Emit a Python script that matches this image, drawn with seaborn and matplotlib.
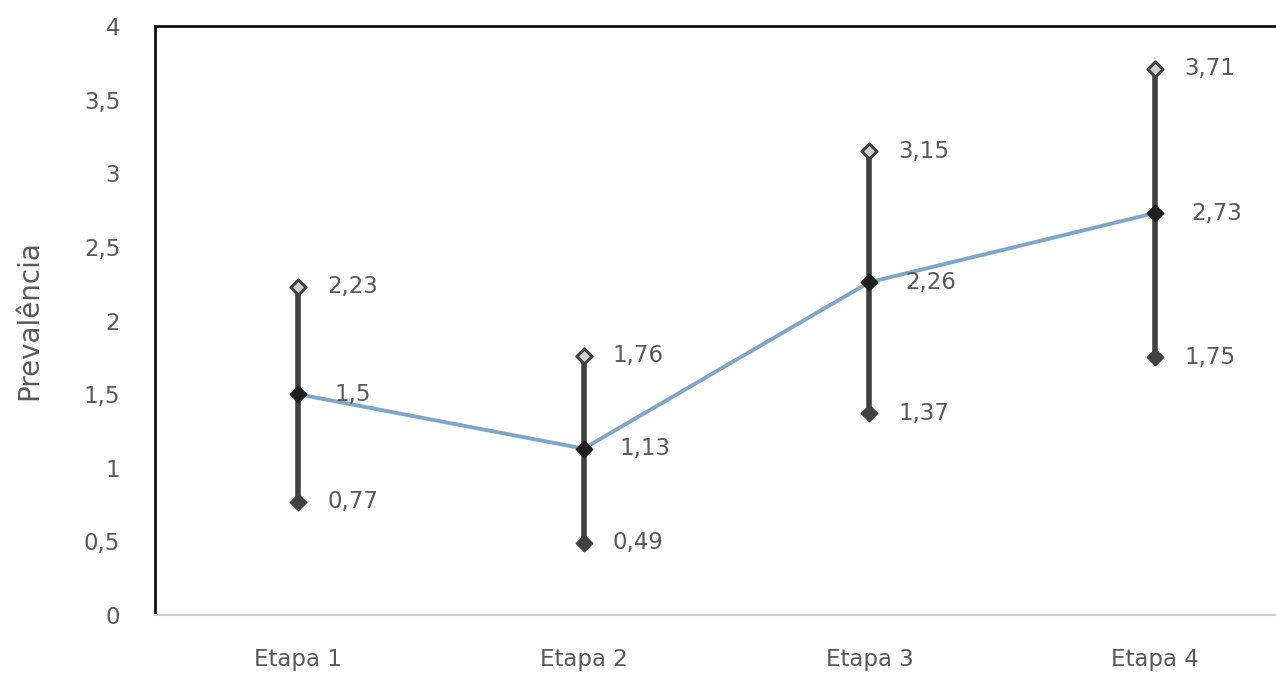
import matplotlib
matplotlib.use("Agg")
import matplotlib.pyplot as plt
import seaborn as sns
import pandas as pd

# chart data
etapas = ["Etapa 1", "Etapa 2", "Etapa 3", "Etapa 4"]
prevalencia = [1.50, 1.13, 2.26, 2.73]
limite_inferior = [0.77, 0.49, 1.37, 1.75]
limite_superior = [2.23, 1.76, 3.15, 3.71]
y_ticks = [0, 0.5, 1, 1.5, 2, 2.5, 3, 3.5, 4]

sns.set_theme(style="white")
plt.rcParams["font.family"] = ["DejaVu Sans"]

TXT = "#595959"
DARK = "#404040"
LINE = "#7ea6c9"
FS = 16.5

df = pd.DataFrame({"etapa": etapas, "prev": prevalencia,
                   "lo": limite_inferior, "hi": limite_superior})
df["x"] = range(len(df))

fig = plt.figure(figsize=(12.76, 6.76), dpi=100)
# plot area runs past the right edge (cropped like the original)
ax = fig.add_axes([155 / 1276, 1 - 615 / 676, 1143 / 1276, 589 / 676])

# confidence interval bars
ax.vlines(df["x"], df["lo"], df["hi"], color=DARK, lw=4, zorder=2)

# prevalence line
sns.lineplot(data=df, x="x", y="prev", ax=ax, color=LINE, lw=2.8, zorder=3)

# markers
ax.scatter(df["x"], df["lo"], marker="D", s=70, color=DARK, zorder=4)
ax.scatter(df["x"], df["prev"], marker="D", s=70, color="#1f1f1f", zorder=4)
ax.scatter(df["x"], df["hi"], marker="D", s=60, facecolor="#d0d0d0",
           edgecolor=DARK, linewidth=2.2, zorder=4)

def fmt(v):
    s = f"{v:.2f}".rstrip("0").rstrip(".")
    return s.replace(".", ",")

for i, row in df.iterrows():
    for col, off in (("hi", 21), ("lo", 21), ("prev", 26)):
        ax.annotate(fmt(row[col]), (row["x"], row[col]), xytext=(off, 0),
                    textcoords="offset points", va="center", ha="left",
                    fontsize=FS, color=TXT)

ax.set_xlim(-0.5, 3.5)
ax.set_ylim(0, 4)
ax.set_xticks(df["x"])
ax.set_xticklabels(etapas, fontsize=FS, color=TXT)
ax.set_yticks(y_ticks)
ax.set_yticklabels([fmt(t) for t in y_ticks], fontsize=FS, color=TXT)
ax.tick_params(axis="x", length=0, pad=24)
ax.tick_params(axis="y", length=0, pad=25)
ax.set_xlabel("")
ax.set_ylabel("Prevalência", fontsize=20, color=TXT, va="center", ha="center")
ax.yaxis.set_label_coords(-0.11, 0.5)

ax.spines["left"].set_color("#111111")
ax.spines["left"].set_linewidth(2)
ax.spines["left"].set_capstyle("butt")
ax.spines["top"].set_color("#111111")
ax.spines["top"].set_linewidth(2)
ax.spines["bottom"].set_color("#d0d0d0")
ax.spines["bottom"].set_linewidth(1.5)
ax.spines["right"].set_visible(False)

fig.savefig("out.png", dpi=100)
